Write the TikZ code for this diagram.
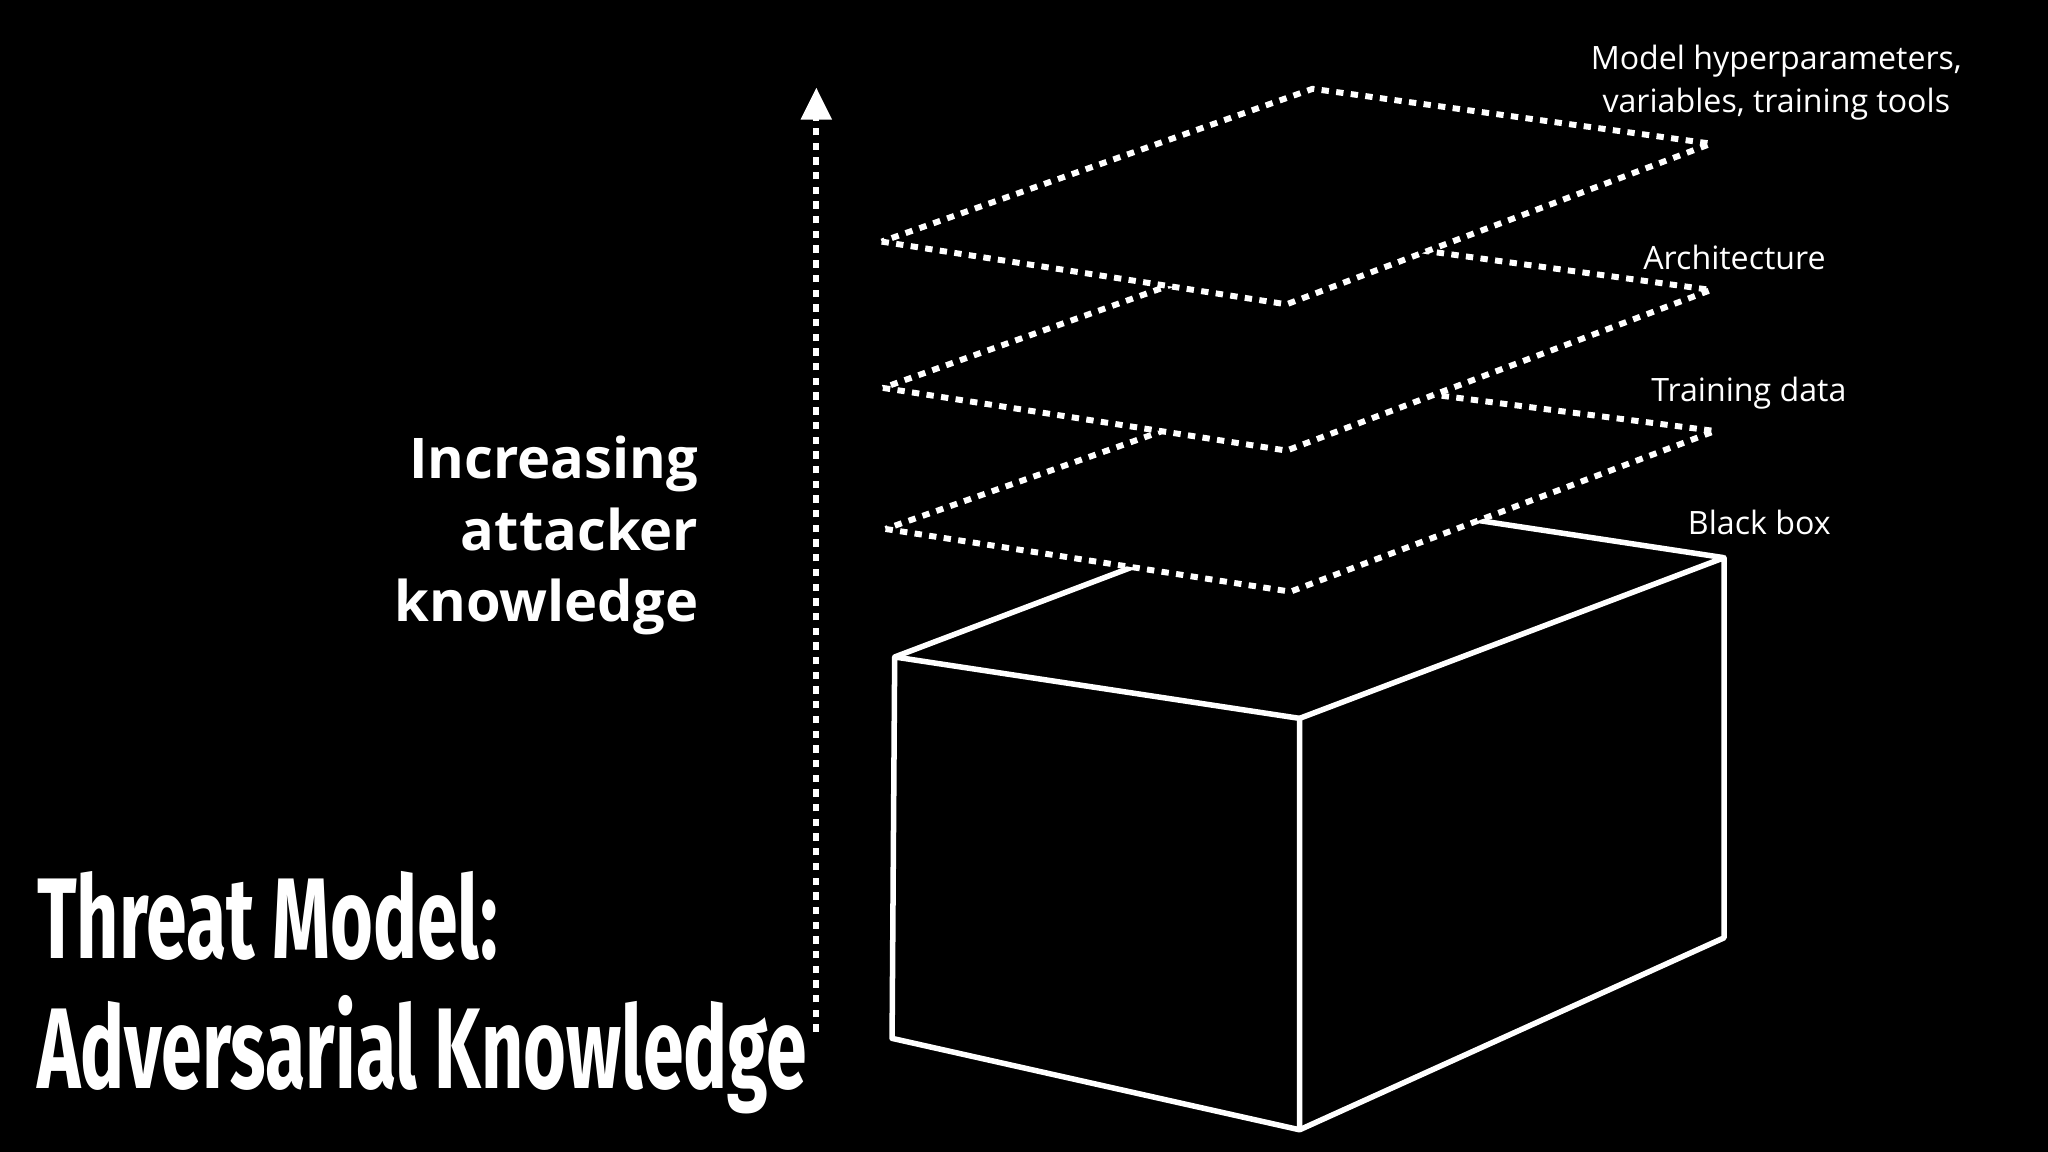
\documentclass[tikz,border=0pt]{standalone}
\usepackage{fontspec}
\setmainfont{Open Sans}
\newfontfamily\titlefont{Fira Sans}
\usetikzlibrary{arrows.meta}
\begin{document}
\begin{tikzpicture}[x=0.01cm,y=-0.01cm,
  solidline/.style={white,line width=1.2pt,line join=round},
  dotline/.style={white,line width=1.3pt,dash pattern=on 1.6pt off 1.6pt},
  plane/.style={dotline,fill=black},
  lbl/.style={white,font=\fontsize{7pt}{9.4pt}\selectfont,align=center}]
\useasboundingbox[fill=black] (0,0) rectangle (1568,882);
% box
\coordinate (f1) at (685,503); \coordinate (f2) at (995,550);
\coordinate (f3) at (995,865); \coordinate (f4) at (683,795);
\coordinate (r1) at (1320,427); \coordinate (r2) at (1320,718);
\coordinate (bk) at (1010,380);
\draw[solidline] (f1)--(f2)--(f3)--(f4)--cycle;
\draw[solidline] (f2)--(r1)--(r2)--(f3);
\draw[solidline] (f1)--(bk)--(r1);
% planes
\draw[plane] (678,405)--(988,453)--(1313,330)--(1003,290)--cycle;
\draw[plane] (676,297)--(985,345)--(1310,222)--(1003,180)--cycle;
\draw[plane] (675,185)--(985,233)--(1310,110)--(1005,68)--cycle;
% arrow
\coordinate (a0) at (625,790); \coordinate (a1) at (625,67);
\draw[dotline,-{Triangle[length=7pt,width=6.5pt,sep=0pt]}] (a0)--(a1);
% labels
\node[lbl] (l1) at (1360,63) {Model hyperparameters,\\variables, training tools};
\node[lbl] (l2) at (1328,197) {Architecture};
\node[lbl] (l3) at (1339,301) {Training data};
\node[lbl] (l4) at (1347,400) {Black box};
\node[white,anchor=east,align=right,font=\fontsize{12.2pt}{15.6pt}\selectfont\bfseries] (k) at (547,410) {Increasing\\attacker\\knowledge};
\node[white,anchor=west,align=left,font=\fontsize{25pt}{28.5pt}\selectfont\titlefont\bfseries] (t) at (16,760) {\scalebox{0.64}[1]{Threat Model:}\\\scalebox{0.64}[1]{Adversarial Knowledge}};
\end{tikzpicture}
\end{document}
